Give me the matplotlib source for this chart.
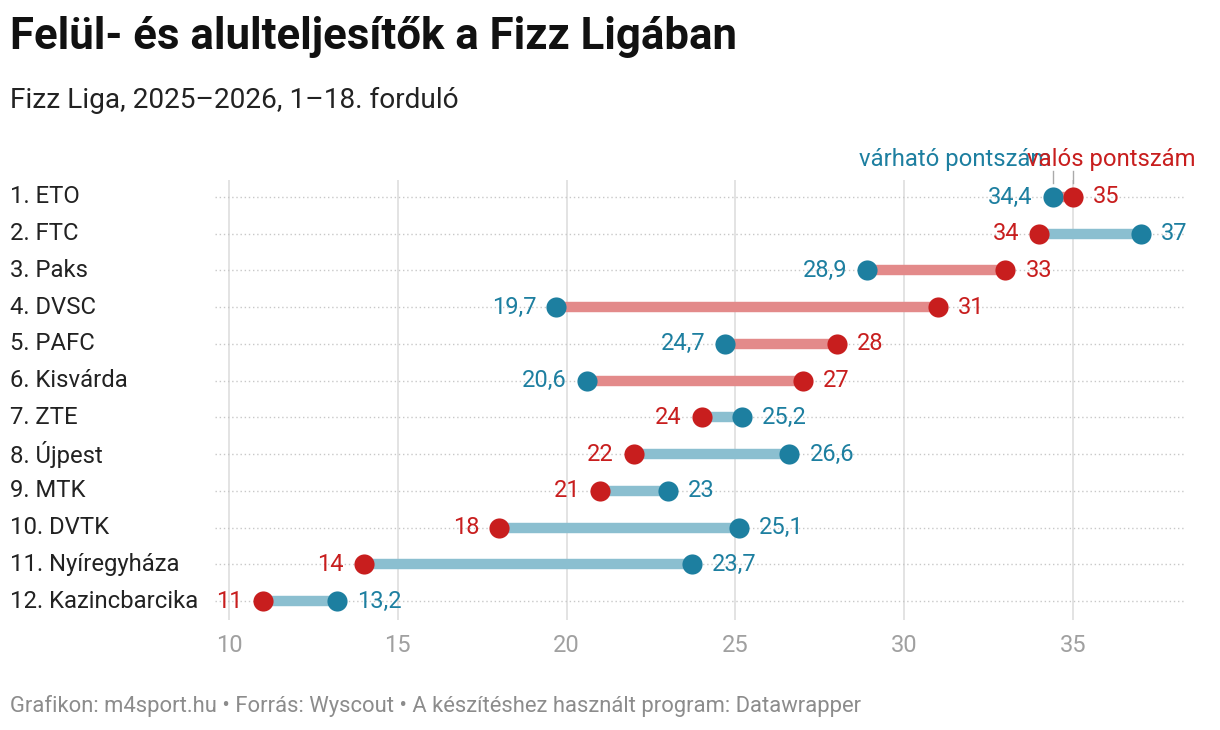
import matplotlib
matplotlib.use("Agg")
import matplotlib.pyplot as plt

teams = ["1. ETO", "2. FTC", "3. Paks", "4. DVSC", "5. PAFC", "6. Kisvárda",
         "7. ZTE", "8. Újpest", "9. MTK", "10. DVTK", "11. Nyíregyháza",
         "12. Kazincbarcika"]
expected = [34.4, 37, 28.9, 19.7, 24.7, 20.6, 25.2, 26.6, 23, 25.1, 23.7, 13.2]
actual = [35, 34, 33, 31, 28, 27, 24, 22, 21, 18, 14, 11]
xticks = [10, 15, 20, 25, 30, 35]

BLUE = "#1d7fa0"
RED = "#c81e1e"
BLUE_L = "#8bbfd0"
RED_L = "#e38a8a"

plt.rcParams["font.family"] = ["Roboto", "DejaVu Sans"]

fig = plt.figure(figsize=(12.2, 7.3), dpi=100)
ax = fig.add_axes([215 / 1220, 1 - 620 / 730, 970 / 1220, 440 / 730])

px = 1 / 33.76  # data units per pixel
ax.set_xlim(10 - 14 * px, 10 + 956 * px)
ax.set_ylim(11 + 19 / 36.73, -17 / 36.73)

for x in xticks:
    ax.axvline(x, color="#e0e0e0", lw=1.3, zorder=0)

def fmt(v):
    s = ("%.1f" % v).rstrip("0").rstrip(".")
    return s.replace(".", ",")

for i, (team, e, a) in enumerate(zip(teams, expected, actual)):
    ax.plot([10 - 14 * px, 10 + 956 * px], [i, i], color="#c8c8c8", lw=1,
            ls=(0, (1, 2)), zorder=0)
    line_c = RED_L if a > e else BLUE_L
    ax.plot([e, a], [i, i], color=line_c, lw=7.5, solid_capstyle="butt", zorder=1)
    ax.plot(e, i, "o", color=BLUE, ms=14.5, mec="none", zorder=3)
    ax.plot(a, i, "o", color=RED, ms=14.5, mec="none", zorder=4)
    lo, hi = (e, a) if e < a else (a, e)
    lo_c = BLUE if lo == e else RED
    hi_c = RED if hi == a else BLUE
    if e == lo:
        lo_v, hi_v = fmt(e), fmt(a)
    else:
        lo_v, hi_v = fmt(a), fmt(e)
    ax.text(lo - 20 * px, i, lo_v, color=lo_c, fontsize=17, ha="right", va="center")
    ax.text(hi + 20 * px, i, hi_v, color=hi_c, fontsize=17, ha="left", va="center")
    fig.text(10 / 1220, ax.transData.transform((0, i))[1] / 730, team,
             fontsize=17.2, color="#222222", ha="left", va="center")

ax.set_xticks(xticks)
ax.set_xticklabels([str(x) for x in xticks])
ax.tick_params(axis="x", length=0, labelsize=17, labelcolor="#a0a0a0", pad=10)
ax.set_yticks([])
for s in ax.spines.values():
    s.set_visible(False)
ax.patch.set_alpha(0)

# series labels above the first row
ax.plot([expected[0], expected[0]], [-0.37, -0.72], color="#aaaaaa", lw=1,
        clip_on=False)
ax.plot([actual[0], actual[0]], [-0.37, -0.72], color="#aaaaaa", lw=1,
        clip_on=False)
ax.text(expected[0] - 1 * px, -1.02, "várható pontszám", color=BLUE, fontsize=17.2,
        ha="right", va="center", clip_on=False)
ax.text(actual[0] - 46 * px, -1.02, "valós pontszám", color=RED, fontsize=17.2,
        ha="left", va="center", clip_on=False)

fig.text(10 / 1220, 1 - 37 / 730, "Felül- és alulteljesítők a Fizz Ligában",
         fontsize=31.5, fontweight="bold", color="#111111", ha="left", va="center")
fig.text(10 / 1220, 1 - 100 / 730, "Fizz Liga, 2025–2026, 1–18. forduló",
         fontsize=20.2, color="#222222", ha="left", va="center")
fig.text(10 / 1220, 1 - 706 / 730,
         "Grafikon: m4sport.hu • Forrás: Wyscout • A készítéshez használt program: Datawrapper",
         fontsize=15.8, color="#8c8c8c", ha="left", va="center")

fig.savefig("out.png", dpi=100)
